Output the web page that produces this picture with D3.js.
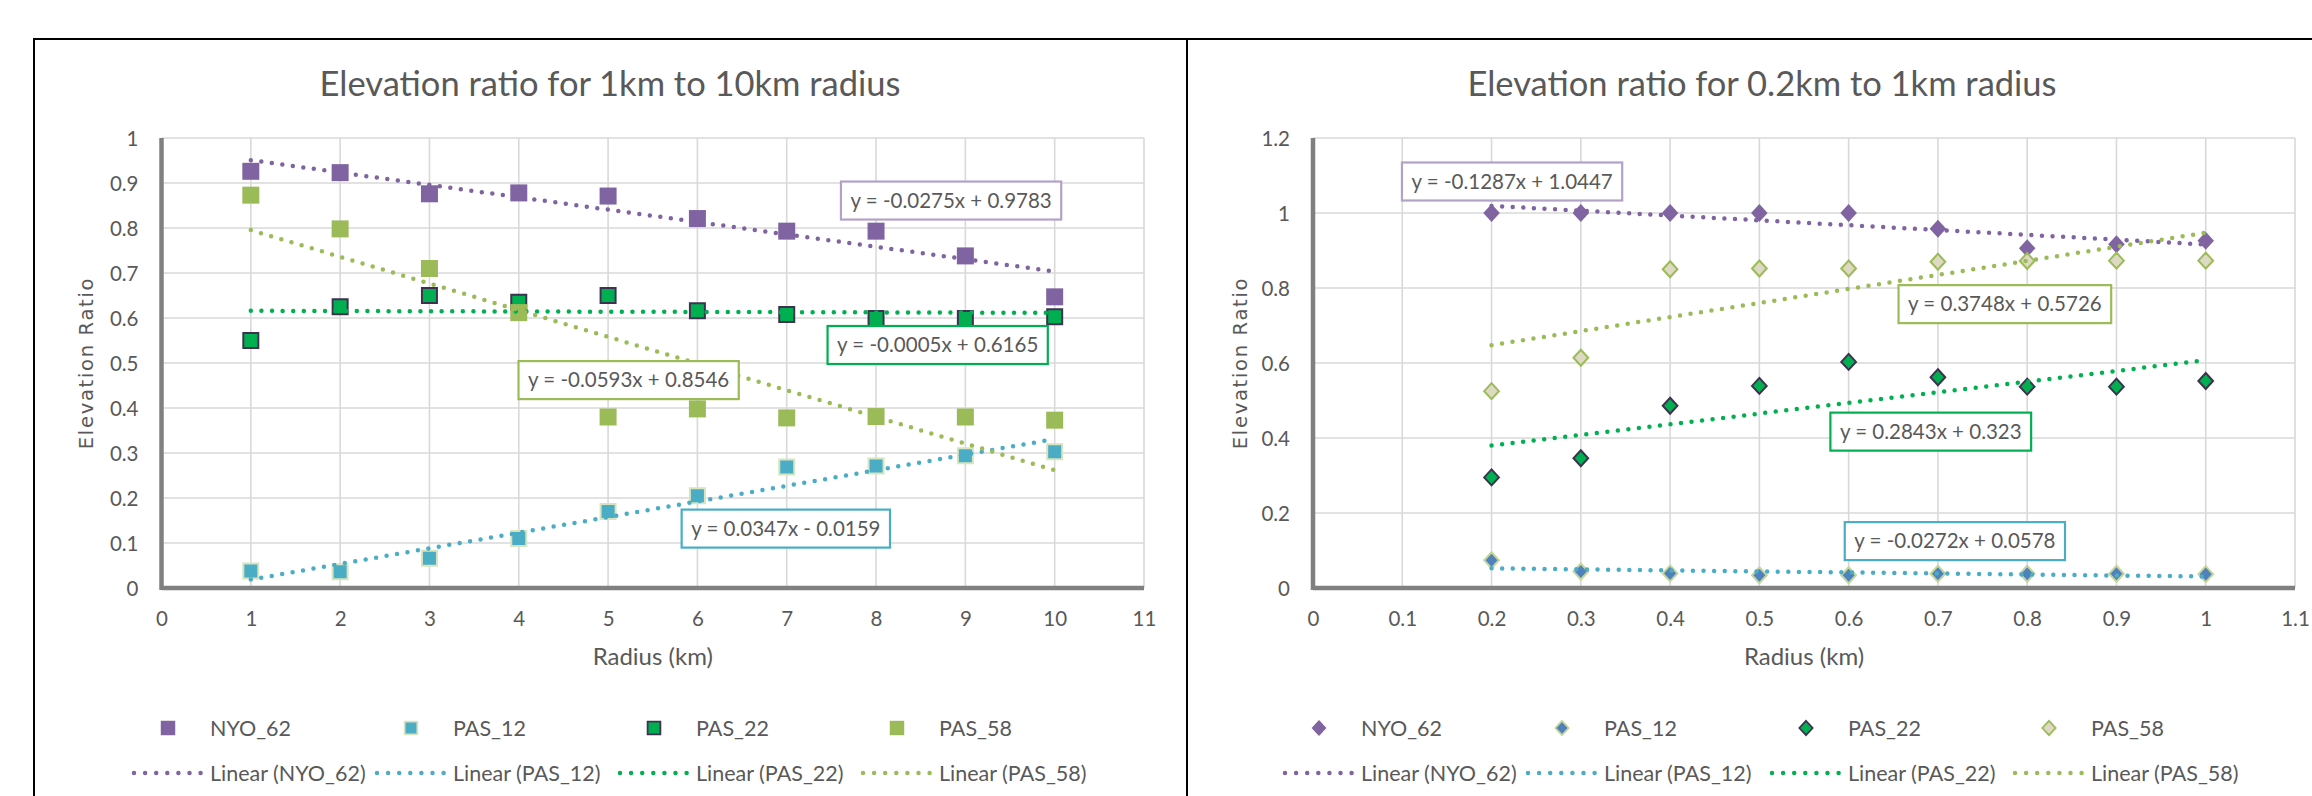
<!DOCTYPE html>
<html>
<head>
<meta charset="utf-8">
<script src="https://cdn.jsdelivr.net/npm/d3@7"></script>
<style>
  body { margin: 0; background: #fff; }
  svg { display: block; }
  text { font-family: Lato, "Open Sans", sans-serif; fill: #595959; }
</style>
</head>
<body>
<svg id="chart" width="2312" height="796"></svg>
<script>
const svg = d3.select("svg#chart");

const seriesNames = ["NYO_62", "PAS_12", "PAS_22", "PAS_58"];

// 1km to 10km panel
const radiusKm = [1, 2, 3, 4, 5, 6, 7, 8, 9, 10];
const nyo62Km = [0.926, 0.923, 0.876, 0.878, 0.871, 0.821, 0.793, 0.793, 0.738, 0.647];
const pas12Km = [0.038, 0.036, 0.066, 0.110, 0.170, 0.205, 0.269, 0.271, 0.294, 0.303];
const pas22Km = [0.550, 0.625, 0.650, 0.635, 0.650, 0.616, 0.608, 0.599, 0.599, 0.603];
const pas58Km = [0.873, 0.798, 0.710, 0.612, 0.380, 0.398, 0.378, 0.381, 0.380, 0.373];
const slopeKm = [-0.0275, 0.0347, -0.0005, -0.0593];
const interceptKm = [0.9783, -0.0159, 0.6165, 0.8546];
const xTicksKm = [0, 1, 2, 3, 4, 5, 6, 7, 8, 9, 10, 11];
const yTicksKm = [0, 0.1, 0.2, 0.3, 0.4, 0.5, 0.6, 0.7, 0.8, 0.9, 1];

// 0.2km to 1km panel
const radiusSub = [0.2, 0.3, 0.4, 0.5, 0.6, 0.7, 0.8, 0.9, 1];
const nyo62Sub = [1.0, 1.0, 1.0, 1.0, 1.0, 0.958, 0.906, 0.917, 0.926];
const pas12Sub = [0.074, 0.044, 0.039, 0.034, 0.034, 0.038, 0.038, 0.038, 0.037];
const pas22Sub = [0.295, 0.346, 0.486, 0.539, 0.603, 0.562, 0.537, 0.537, 0.552];
const pas58Sub = [0.525, 0.614, 0.850, 0.852, 0.852, 0.870, 0.872, 0.873, 0.873];
const slopeSub = [-0.1287, -0.0272, 0.2843, 0.3748];
const interceptSub = [1.0447, 0.0578, 0.323, 0.5726];
const xTicksSub = [0, 0.1, 0.2, 0.3, 0.4, 0.5, 0.6, 0.7, 0.8, 0.9, 1, 1.1];
const yTicksSub = [0, 0.2, 0.4, 0.6, 0.8, 1, 1.2];

const trendColors = ["#8064A2", "#4BACC6", "#00B050", "#9BBB59"];
const boxColors = ["#B3A2C7", "#4BACC6", "#00B050", "#9BBB59"];

const panels = [
  {
    title: "Elevation ratio for 1km to 10km radius",
    titleX: 610,
    xs: radiusKm,
    ys: [nyo62Km, pas12Km, pas22Km, pas58Km],
    slopes: slopeKm, intercepts: interceptKm,
    xTicks: xTicksKm, yTicks: yTicksKm,
    xRange: [161.5, 1144], yMax: 1,
    yLabelX: 86,
    shape: "square",
    markers: [
      {fill: "#8064A2", stroke: "none", r: 8.5},
      {fill: "#4BACC6", stroke: "#D7E4BD", r: 7.5},
      {fill: "#00B050", stroke: "#3F3151", r: 7.5},
      {fill: "#9BBB59", stroke: "none", r: 8.5}
    ],
    // equation box centres, in data units
    labelAt: [[8.84, 0.861], [6.99, 0.132], [8.69, 0.540], [5.23, 0.462]],
    legendX: [210, 453, 696, 939]
  },
  {
    title: "Elevation ratio for 0.2km to 1km radius",
    titleX: 1762,
    xs: radiusSub,
    ys: [nyo62Sub, pas12Sub, pas22Sub, pas58Sub],
    slopes: slopeSub, intercepts: interceptSub,
    xTicks: xTicksSub, yTicks: yTicksSub,
    xRange: [1313, 2295], yMax: 1.2,
    yLabelX: 1240,
    shape: "diamond",
    markers: [
      {fill: "#8064A2", stroke: "none", r: 9},
      {fill: "#4F81BD", stroke: "#C3D69B", r: 8},
      {fill: "#00B050", stroke: "#3F3151", r: 8},
      {fill: "#DDD9C3", stroke: "#9BBB59", r: 8}
    ],
    labelAt: [[0.223, 1.084], [0.719, 0.125], [0.692, 0.417], [0.775, 0.757]],
    legendX: [1361, 1604, 1848, 2091]
  }
];

const plotTop = 138, plotBottom = 588;

function shapePath(shape, r) {
  if (shape === "square") return `M${-r},${-r}h${2 * r}v${2 * r}h${-2 * r}Z`;
  const w = r * 0.92;
  return `M0,${-r}L${w},0L0,${r}L${-w},0Z`;
}

function fmt(v) { return String(+v.toFixed(2)); }

function equation(m, b) {
  return `y = ${m}x ${b < 0 ? "-" : "+"} ${Math.abs(b)}`;
}

// panel frames
const frame = svg.append("g").attr("stroke", "#000").attr("stroke-width", 2);
frame.append("line").attr("x1", 34).attr("x2", 2312).attr("y1", 39).attr("y2", 39);
frame.append("line").attr("x1", 34).attr("x2", 34).attr("y1", 38).attr("y2", 796);
frame.append("line").attr("x1", 1187).attr("x2", 1187).attr("y1", 38).attr("y2", 796);

panels.forEach(drawPanel);

function drawPanel(p) {
  const xMax = p.xTicks[p.xTicks.length - 1];
  const x = d3.scaleLinear().domain([0, xMax]).range(p.xRange);
  const y = d3.scaleLinear().domain([0, p.yMax]).range([plotBottom, plotTop]);
  const g = svg.append("g");

  // gridlines
  const grid = g.append("g").attr("stroke", "#D9D9D9").attr("stroke-width", 1.6);
  grid.selectAll("line.h").data(p.yTicks.filter(t => t > 0)).join("line")
    .attr("class", "h")
    .attr("x1", x(0)).attr("x2", x(xMax))
    .attr("y1", d => y(d)).attr("y2", d => y(d));
  grid.selectAll("line.v").data(p.xTicks.filter(t => t > 0)).join("line")
    .attr("class", "v")
    .attr("x1", d => x(d)).attr("x2", d => x(d))
    .attr("y1", y(p.yMax)).attr("y2", y(0));

  // axes
  const xAxis = g.append("g")
    .attr("transform", `translate(0,${plotBottom})`)
    .call(d3.axisBottom(x).tickValues(p.xTicks).tickSize(0).tickPadding(0).tickFormat(fmt));
  xAxis.select(".domain").remove();
  xAxis.selectAll("text")
    .attr("y", 37.5).attr("dy", 0)
    .style("font-size", "20.5px").style("font-family", "Lato").attr("fill", "#595959");

  const yAxis = g.append("g")
    .attr("transform", `translate(${x(0)},0)`)
    .call(d3.axisLeft(y).tickValues(p.yTicks).tickSize(0).tickPadding(23).tickFormat(fmt));
  yAxis.select(".domain").remove();
  yAxis.selectAll("text")
    .attr("dy", "0.35em")
    .style("font-size", "20.5px").style("font-family", "Lato").attr("fill", "#595959");

  g.append("line")
    .attr("x1", x(0)).attr("x2", x(0)).attr("y1", y(p.yMax)).attr("y2", y(0) + 2)
    .attr("stroke", "#808080").attr("stroke-width", 4.5);
  g.append("line")
    .attr("x1", x(0)).attr("x2", x(xMax)).attr("y1", y(0)).attr("y2", y(0))
    .attr("stroke", "#808080").attr("stroke-width", 4.5);

  // titles
  g.append("text")
    .attr("x", p.titleX).attr("y", 96)
    .attr("text-anchor", "middle")
    .style("font-size", "34.5px")
    .text(p.title);

  g.append("text")
    .attr("x", (p.xRange[0] + p.xRange[1]) / 2).attr("y", 665)
    .attr("text-anchor", "middle")
    .style("font-size", "24px")
    .text("Radius (km)");

  g.append("text")
    .attr("transform", `translate(${p.yLabelX},${(plotTop + plotBottom) / 2}) rotate(-90)`)
    .attr("text-anchor", "middle")
    .attr("dy", "0.35em")
    .style("font-family", "DejaVu Sans")
    .style("font-size", "19.5px")
    .style("letter-spacing", "1.7px")
    .text("Elevation Ratio");

  // markers, in series order
  p.ys.forEach((vals, i) => {
    const m = p.markers[i];
    g.append("g").selectAll("path")
      .data(vals.map((v, j) => [p.xs[j], v]))
      .join("path")
        .attr("transform", d => `translate(${x(d[0])},${y(d[1])})`)
        .attr("d", shapePath(p.shape, m.r))
        .attr("fill", m.fill)
        .attr("stroke", m.stroke)
        .attr("stroke-width", 2);
  });

  // linear trendlines
  const line = d3.line().x(d => x(d[0])).y(d => y(d[1]));
  const x0 = p.xs[0], x1 = p.xs[p.xs.length - 1];
  p.slopes.forEach((m, i) => {
    const b = p.intercepts[i];
    g.append("path")
      .attr("d", line([[x0, m * x0 + b], [x1, m * x1 + b]]))
      .attr("fill", "none")
      .attr("stroke", trendColors[i])
      .attr("stroke-width", 4.5)
      .attr("stroke-linecap", "round")
      .attr("stroke-dasharray", "0 10.6");
  });

  // equation boxes
  p.slopes.forEach((m, i) => {
    const [lx, ly] = p.labelAt[i];
    const lg = g.append("g").attr("transform", `translate(${x(lx)},${y(ly)})`);
    const rect = lg.append("rect");
    const t = lg.append("text")
      .attr("text-anchor", "middle")
      .attr("dy", "0.35em")
      .style("font-size", "20.5px")
      .text(equation(m, p.intercepts[i]));
    const w = t.node().getComputedTextLength() + 19;
    rect.attr("x", -w / 2).attr("y", -19).attr("width", w).attr("height", 38)
      .attr("fill", "#fff")
      .attr("stroke", boxColors[i])
      .attr("stroke-width", 2.2);
  });

  // legend
  const leg = g.append("g");
  seriesNames.forEach((name, i) => {
    const tx = p.legendX[i];
    const m = p.markers[i];
    const lr = p.shape === "square" ? m.r * 0.85 : m.r * 0.9;
    leg.append("path")
      .attr("transform", `translate(${tx - 42},728)`)
      .attr("d", shapePath(p.shape, lr))
      .attr("fill", m.fill)
      .attr("stroke", m.stroke)
      .attr("stroke-width", 1.8);
    leg.append("text")
      .attr("x", tx).attr("y", 728).attr("dy", "0.35em")
      .style("font-size", "21.5px")
      .text(name);
    leg.append("line")
      .attr("x1", tx - 76).attr("x2", tx - 9)
      .attr("y1", 773).attr("y2", 773)
      .attr("stroke", trendColors[i])
      .attr("stroke-width", 4.5)
      .attr("stroke-linecap", "round")
      .attr("stroke-dasharray", "0 11.1");
    leg.append("text")
      .attr("x", tx).attr("y", 773).attr("dy", "0.35em")
      .style("font-size", "21.5px")
      .text(`Linear (${name})`);
  });
}
</script>
</body>
</html>
